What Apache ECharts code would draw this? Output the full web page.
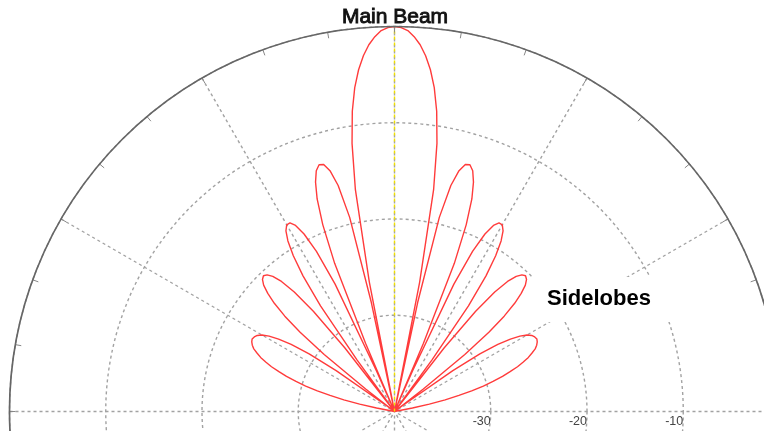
<!DOCTYPE html>
<html>
<head>
<meta charset="utf-8">
<script src="https://cdn.jsdelivr.net/npm/echarts@6/dist/echarts.min.js"></script>
<style>
html,body{margin:0;padding:0;background:#fff;}
#chart{width:764px;height:431px;}
</style>
</head>
<body>
<div id="chart"></div>
<script>
// Radiation pattern: angle in degrees (0 = right, 90 = broadside/top), gain in dB
const patternAngles = [
  0, 10, 11, 12, 13, 14, 15, 16, 17, 18, 19, 20, 21, 22, 23, 24, 25, 26, 27, 28, 29, 30,
  31, 32, 33, 34, 35, 36, 36.87, 38, 39, 40, 41, 42, 43, 44, 45, 46, 47, 48, 49, 50,
  51, 52, 53.13, 54, 55, 56, 57, 58, 59, 60, 61, 62, 63, 64, 65, 66, 66.42, 67, 68,
  69, 70, 71, 72, 73, 74, 75, 76, 77, 78, 78.46, 79, 80, 81, 82, 83, 84, 85, 86, 87,
  88, 89, 90, 91, 92, 93, 94, 95, 96, 97, 98, 99, 100, 101, 101.54, 102, 103, 104, 105,
  106, 107, 108, 109, 110, 111, 112, 113, 113.58, 114, 115, 116, 117, 118, 119, 120,
  121, 122, 123, 124, 125, 126, 126.87, 128, 129, 130, 131, 132, 133, 134, 135, 136,
  137, 138, 139, 140, 141, 142, 143.13, 144, 145, 146, 147, 148, 149, 150, 151, 152,
  153, 154, 155, 156, 157, 158, 159, 160, 161, 162, 163, 164, 165, 166, 167, 168, 169,
  170, 180
];
const patternDb = [
  -40, -40, -38.1, -36.3, -34.6, -33.1, -31.7, -30.4, -29.3, -28.2, -27.3, -26.4, -25.7, -25.0, -24.5, -24.0, -23.7, -23.5, -23.4, -23.5, -23.7, -24.1,
  -24.8, -25.8, -27.2, -29.3, -32.6, -38.9, -40, -36.2, -30.6, -27.2, -24.9, -23.2, -22.0, -21.1, -20.6, -20.4, -20.6, -21.1, -22.1, -23.8,
  -26.6, -31.6, -40, -33.4, -26.6, -23.0, -20.7, -19.1, -18.1, -17.6, -17.6, -18.1, -19.3, -21.5, -25.4, -35.4, -40, -32.3, -23.4,
  -19.2, -16.5, -14.8, -13.7, -13.2, -13.3, -14.1, -15.8, -19.3, -28.4, -40, -26.3, -16.6, -11.8, -8.5, -6.1, -4.3, -2.9, -1.8, -1.0,
  -0.4, -0.1, 0.0, -0.1, -0.4, -1.0, -1.8, -2.9, -4.3, -6.1, -8.5, -11.8, -16.6, -26.3, -40, -28.4, -19.3, -15.8, -14.1,
  -13.3, -13.2, -13.7, -14.8, -16.5, -19.2, -23.4, -32.3, -40, -35.4, -25.4, -21.5, -19.3, -18.1, -17.6, -17.6,
  -18.1, -19.1, -20.7, -23.0, -26.6, -33.4, -40, -31.6, -26.6, -23.8, -22.1, -21.1, -20.6, -20.4, -20.6, -21.1,
  -22.0, -23.2, -24.9, -27.2, -30.6, -36.2, -40, -38.9, -32.6, -29.3, -27.2, -25.8, -24.8, -24.1, -23.7, -23.5,
  -23.4, -23.5, -23.7, -24.0, -24.5, -25.0, -25.7, -26.4, -27.3, -28.2, -29.3, -30.4, -31.7, -33.1, -34.6, -36.3, -38.1,
  -40, -40
];
// Main beam direction marker (dB range along 90 degrees)
const beamAxisDb = [-40, 0];
const beamAxisAngle = 90;
// Radial ticks (dB)
const radialMin = -40, radialMax = 0, radialStep = 10;
const radialLabels = ['-30', '-20', '-10'];
const annotations = ['Main Beam', 'Sidelobes'];

const CX = 394.5, CY = 411.5, R = 385;
const chart = echarts.init(document.getElementById('chart'), null, {renderer: 'canvas'});
const dotted = {type: [3, 3], color: '#a2a2a2', width: 1.4};

chart.setOption({
  animation: false,
  backgroundColor: '#fff',
  polar: [
    {center: [CX, CY], radius: R},
    {center: [CX, CY], radius: R}
  ],
  angleAxis: [
    {
      polarIndex: 0, type: 'value', min: 0, max: 360, interval: 30,
      startAngle: 0, clockwise: false,
      axisLine: {show: false}, axisTick: {show: false}, axisLabel: {show: false},
      splitLine: {show: true, lineStyle: dotted}
    },
    {
      polarIndex: 1, type: 'value', min: 0, max: 360, interval: 10,
      startAngle: 0, clockwise: false,
      axisLine: {show: true, lineStyle: {color: '#666', width: 1.7}},
      axisTick: {show: true, inside: true, length: 6, lineStyle: {color: '#888', width: 1}},
      axisLabel: {show: false},
      splitLine: {show: false}, z: 5
    }
  ],
  radiusAxis: [
    {
      polarIndex: 0, type: 'value', min: radialMin, max: radialMax, interval: radialStep,
      axisLine: {show: false}, axisTick: {show: false},
      axisLabel: {
        show: true, align: 'right', verticalAlign: 'top', margin: -4, fontSize: 12.5, color: '#444',
        fontFamily: 'Liberation Sans, Arial, sans-serif',
        formatter: v => radialLabels.indexOf(String(v)) >= 0 ? String(v) : ''
      },
      splitLine: {show: true, lineStyle: dotted}
    },
    {
      polarIndex: 1, type: 'value', min: radialMin, max: radialMax,
      axisLine: {show: false}, axisTick: {show: false}, axisLabel: {show: false}, splitLine: {show: false}
    }
  ],
  series: [
    {
      type: 'line', coordinateSystem: 'polar', polarIndex: 0,
      data: beamAxisDb.map(d => [d, beamAxisAngle]),
      symbol: 'none', lineStyle: {color: '#f0e000', width: 1.4, type: [3, 3]}, z: 4, silent: true
    },
    {
      type: 'line', coordinateSystem: 'polar', polarIndex: 0,
      data: patternAngles.map((a, i) => [patternDb[i], a]),
      symbol: 'none', lineStyle: {color: '#ff3b3b', width: 1.4}, z: 3, silent: true
    }
  ],
  graphic: [
    {
      type: 'text', x: 395, y: 17, z: 100,
      style: {
        text: annotations[0], align: 'center', verticalAlign: 'middle',
        font: '21px "Liberation Sans", Arial, sans-serif', fill: '#111',
        stroke: '#111', lineWidth: 0.9,
        shadowColor: 'rgba(0,0,0,0.45)', shadowBlur: 1, shadowOffsetX: 1, shadowOffsetY: 1
      }
    },
    {
      type: 'rect', z: 90,
      shape: {x: 531, y: 277, width: 141, height: 45},
      style: {fill: '#fff'}
    },
    {
      type: 'text', x: 547, y: 299, z: 100,
      style: {
        text: annotations[1], align: 'left', verticalAlign: 'middle',
        font: 'bold 22px "Liberation Sans", Arial, sans-serif', fill: '#000',
        shadowColor: 'rgba(0,0,0,0.4)', shadowBlur: 1, shadowOffsetX: 1, shadowOffsetY: 1
      }
    }
  ]
});
</script>
</body>
</html>
